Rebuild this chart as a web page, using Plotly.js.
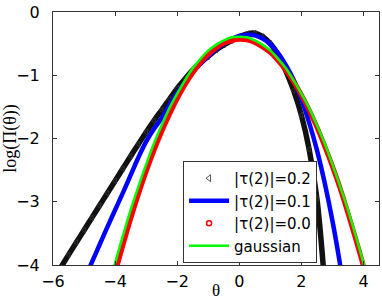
<!DOCTYPE html>
<html>
<head>
<meta charset="utf-8">
<script src="https://cdn.plot.ly/plotly-3.0.1.min.js"></script>
<style>html,body{margin:0;padding:0;background:#fff;}#chart{width:382px;height:300px;}</style>
</head>
<body>
<div id="chart"></div>
<script>
// |tau(2)| = 0.2 (black open triangles)
const thetaTau02 = [-5.75,-5.5,-5.25,-5.0,-4.75,-4.5,-4.25,-4.0,-3.75,-3.5,-3.25,-3.0,-2.75,-2.5,-2.25,-2.0,-1.75,-1.5,-1.25,-1.0,-0.75,-0.5,-0.25,0,0.25,0.5,0.75,1.0,1.25,1.5,1.75,2.0,2.25,2.5,2.75];
const logTau02   = [-4.04,-3.84,-3.645,-3.45,-3.255,-3.06,-2.865,-2.67,-2.475,-2.28,-2.09,-1.90,-1.72,-1.55,-1.38,-1.21,-1.06,-0.92,-0.80,-0.70,-0.60,-0.52,-0.45,-0.39,-0.345,-0.335,-0.39,-0.50,-0.68,-0.93,-1.24,-1.63,-2.17,-2.95,-4.3];

// |tau(2)| = 0.1 (blue line)
const thetaTau01 = [-5.0,-4.75,-4.5,-4.25,-4.0,-3.75,-3.5,-3.25,-3.0,-2.75,-2.5,-2.25,-2.0,-1.75,-1.5,-1.25,-1.0,-0.75,-0.5,-0.25,0,0.25,0.5,0.75,1.0,1.25,1.5,1.75,2.0,2.25,2.5,2.75,3.0,3.25,3.5];
const logTau01   = [-4.24,-3.96,-3.68,-3.40,-3.13,-2.86,-2.58,-2.30,-2.05,-1.85,-1.68,-1.47,-1.28,-1.11,-0.95,-0.82,-0.70,-0.59,-0.50,-0.43,-0.38,-0.36,-0.37,-0.42,-0.51,-0.65,-0.84,-1.07,-1.38,-1.75,-2.18,-2.70,-3.30,-4.00,-4.80];

// |tau(2)| = 0.0 (red circles)
const thetaTau00 = [-4.25,-4.0,-3.75,-3.5,-3.25,-3.0,-2.75,-2.5,-2.25,-2.0,-1.75,-1.5,-1.25,-1.0,-0.75,-0.5,-0.25,0,0.25,0.5,0.75,1.0,1.25,1.5,1.75,2.0,2.25,2.5,2.75,3.0,3.25,3.5,3.75,4.0,4.25];
const logTau00   = [-4.61,-4.13,-3.69,-3.27,-2.88,-2.52,-2.19,-1.89,-1.62,-1.37,-1.15,-0.96,-0.80,-0.67,-0.57,-0.49,-0.45,-0.43,-0.44,-0.48,-0.55,-0.64,-0.77,-0.92,-1.10,-1.31,-1.55,-1.82,-2.12,-2.44,-2.79,-3.18,-3.59,-4.02,-4.49];

// gaussian (green line)
const thetaGauss = [-4.25,-4.0,-3.75,-3.5,-3.25,-3.0,-2.75,-2.5,-2.25,-2.0,-1.75,-1.5,-1.25,-1.0,-0.75,-0.5,-0.25,0,0.25,0.5,0.75,1.0,1.25,1.5,1.75,2.0,2.25,2.5,2.75,3.0,3.25,3.5,3.75,4.0,4.25];
const logGauss   = [-4.44,-3.97,-3.54,-3.13,-2.76,-2.41,-2.08,-1.79,-1.52,-1.29,-1.08,-0.89,-0.74,-0.61,-0.52,-0.45,-0.40,-0.39,-0.40,-0.45,-0.52,-0.61,-0.74,-0.89,-1.08,-1.29,-1.52,-1.79,-2.08,-2.41,-2.76,-3.13,-3.54,-3.97,-4.44];

const legendNames = ['|τ(2)|=0.2','|τ(2)|=0.1','|τ(2)|=0.0','gaussian'];
const xTicks = [-6,-4,-2,0,2,4];
const yTicks = [-4,-3,-2,-1,0];

const traces = [
  {x: thetaTau02, y: logTau02, mode:'lines+markers', line:{color:'#111', width:5.5, shape:'spline'},
   marker:{symbol:'triangle-left-open', size:5, color:'#333', line:{width:1}}, showlegend:false, hoverinfo:'skip'},
  {x: thetaTau01, y: logTau01, mode:'lines', line:{color:'#0000ff', width:4.5, shape:'spline'},
   name: legendNames[1], legendrank:2},
  {x: thetaTau00, y: logTau00, mode:'lines', line:{color:'#ff0000', width:5, shape:'spline'},
   showlegend:false},
  {x: thetaGauss, y: logGauss, mode:'lines', line:{color:'#00ff00', width:2.5, shape:'spline'},
   name: legendNames[3], legendrank:4},
  {x:[null], y:[null], mode:'markers', marker:{symbol:'triangle-left-open', size:6, color:'#555'},
   name: legendNames[0], legendrank:1},
  {x:[null], y:[null], mode:'markers', marker:{symbol:'circle-open', size:5, color:'#ff0000', line:{width:1.5}},
   name: legendNames[2], legendrank:3}
];

const layout = {
  width:382, height:300,
  margin:{l:53, r:3, t:12, b:35},
  paper_bgcolor:'#fff', plot_bgcolor:'#fff',
  font:{family:'DejaVu Sans, sans-serif', size:16, color:'#000'},
  xaxis:{range:[-6,4.5], tickvals:xTicks, ticks:'inside', ticklen:4, tickcolor:'#333',
    showline:true, linecolor:'#333', linewidth:1, mirror:'ticks', showgrid:false, zeroline:false,
    ticklabelstandoff:2, tickfont:{size:16},
    title:{text:'θ', font:{family:'Liberation Serif, serif', size:17}, standoff:0}},
  yaxis:{range:[-4,0], tickvals:yTicks, ticks:'inside', ticklen:4, tickcolor:'#333',
    showline:true, linecolor:'#333', linewidth:1, mirror:'ticks', showgrid:false, zeroline:false,
    ticklabelstandoff:9, tickfont:{size:16},
    title:{text:'log(Π(θ))', font:{family:'Liberation Serif, serif', size:18}, standoff:6}},
  legend:{x:0.399, y:0.008, xanchor:'left', yanchor:'bottom', bgcolor:'#fff',
    bordercolor:'#333', borderwidth:1, font:{family:'DejaVu Sans, sans-serif', size:15},
    tracegroupgap:0, itemwidth:40},
  showlegend:true
};

Plotly.newPlot('chart', traces, layout, {displayModeBar:false, staticPlot:true});
</script>
</body>
</html>
